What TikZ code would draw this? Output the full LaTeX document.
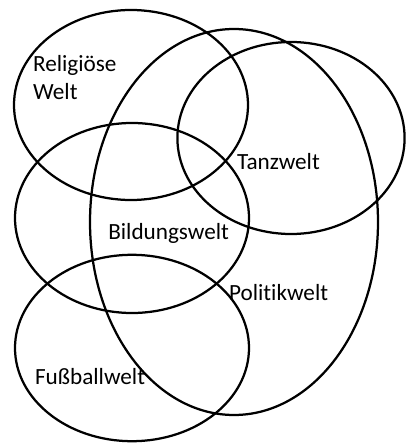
\documentclass[tikz,border=0pt]{standalone}
\usepackage{fontspec}
\setmainfont[Ligatures=NoCommon]{Carlito}
\usetikzlibrary{positioning}

\begin{document}
\begin{tikzpicture}[welt/.style={black,line width=1.6pt},
  label/.style={inner sep=0pt,anchor=base west,font=\fontsize{16.5}{20}\selectfont}]
  \useasboundingbox (0,0) rectangle (10.15,11.1);
  % Welten
  \def\rx{2.925}\def\ry{2.375}
  \draw[welt] (3.275,8.475) ellipse ({\rx} and {\ry});
  \draw[welt] (5.85,5.55) ellipse (3.6 and 4.825);
  \draw[welt] (7.275,7.65) ellipse (2.84 and 2.4);
  \draw[welt] (3.3,5.65) ellipse ({\rx} and {\ry});
  \draw[welt] (3.3,2.4) ellipse ({\rx} and 2.33);
  % Beschriftungen
  \node[label,align=left] (relig) at (0.82,8.6) {Religiöse\\Welt};
  \node[label] (tanz) at (5.92,6.85) {Tanzwelt};
  \node[label] (bildung) at (2.7,5.1) {Bildungswelt};
  \node[label] (politik) at (5.72,3.575) {Politikwelt};
  \node[label] (fussball) at (0.87,1.475) {Fußballwelt};
\end{tikzpicture}
\end{document}
